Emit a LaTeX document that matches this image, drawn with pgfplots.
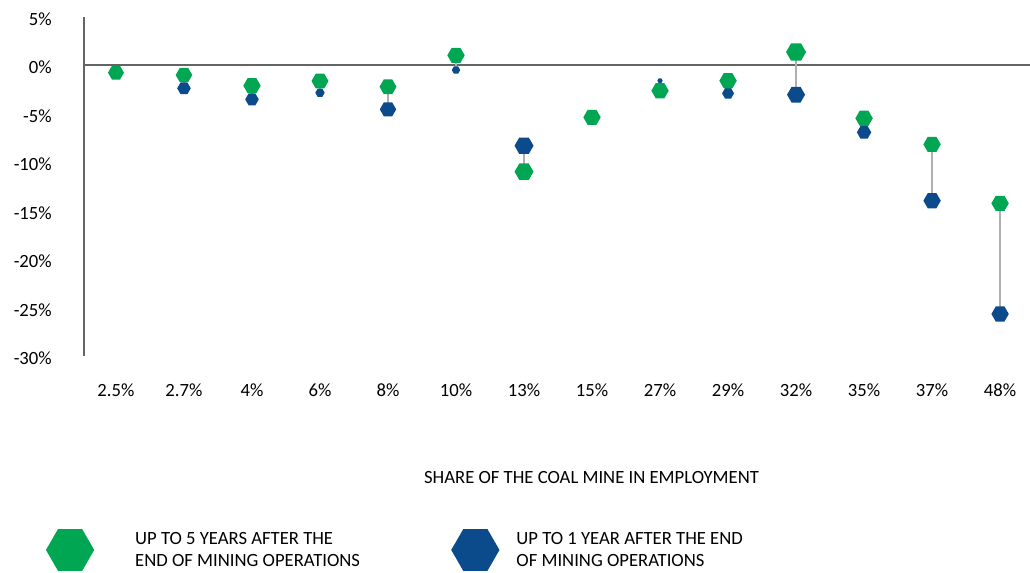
\documentclass[border=0pt]{standalone}
\usepackage{fontspec}
\setmainfont{Carlito}
\usepackage{pgfplots}
\pgfplotsset{compat=1.18}
\usepackage{pgfplotstable}

\definecolor{cgreen}{HTML}{00A651}
\definecolor{cblue}{HTML}{0B4A8B}
\definecolor{cconn}{HTML}{B0B0B0}
\definecolor{caxis}{HTML}{646464}

% flat-topped hexagon, radius = mark size
\pgfdeclareplotmark{hexa}{%
  \pgfpathmoveto{\pgfqpoint{\pgfplotmarksize}{0pt}}%
  \pgfpathlineto{\pgfqpoint{0.5\pgfplotmarksize}{0.866\pgfplotmarksize}}%
  \pgfpathlineto{\pgfqpoint{-0.5\pgfplotmarksize}{0.866\pgfplotmarksize}}%
  \pgfpathlineto{\pgfqpoint{-\pgfplotmarksize}{0pt}}%
  \pgfpathlineto{\pgfqpoint{-0.5\pgfplotmarksize}{-0.866\pgfplotmarksize}}%
  \pgfpathlineto{\pgfqpoint{0.5\pgfplotmarksize}{-0.866\pgfplotmarksize}}%
  \pgfpathclose\pgfusepathqfill}

% g: up to 5 years, b: up to 1 year; gs, bs: marker radius (px)
\pgfplotstableread{
x  g       gs    b       bs
0  -0.79   8.0   -0.79   0
1  -1.03   8.3   -2.40   6.8
2  -2.13   8.7   -3.54   6.8
3  -1.65   8.5   -2.86   4.7
4  -2.24   8.5   -4.57   8.2
5   1.00   8.7   -0.52   4.2
6  -11.00  9.5   -8.32   9.5
7  -5.39   8.7   -5.39   0
8  -2.65   8.7   -1.62   2.7
9  -1.62   8.7   -2.92   6.0
10  1.34   10.0  -3.06   9.0
11 -5.49   8.7   -6.94   7.2
12 -8.18   8.7   -13.99  8.7
13 -14.26  8.7   -25.67  8.7
}\mines

\newcommand\lbl{\fontsize{14}{16.5}\selectfont}

\begin{document}
\begin{tikzpicture}
\useasboundingbox (0,0) rectangle (772.5pt,429pt);
\begin{axis}[
  at={(63pt,162pt)}, anchor=south west, scale only axis,
  width=709.5pt, height=254.6pt,
  xmin=-0.47, xmax=13.44, ymin=-30, ymax=5,
  clip=false,
  axis line style={draw=none}, major tick length=0pt,
  xtick={0,...,13},
  xticklabels={2.5\%,2.7\%,4\%,6\%,8\%,10\%,13\%,15\%,27\%,29\%,32\%,35\%,37\%,48\%},
  ytick={-30,-25,...,5},
  yticklabel={\pgfmathprintnumber{\tick}\%},
  /pgf/number format/assume math mode=true,
  tick label style={font=\lbl},
  xticklabel style={anchor=base, yshift=-30.4pt},
  yticklabel style={anchor=base east, inner sep=0pt, xshift=-24pt, yshift=-6.4pt},
  xlabel={SHARE OF THE COAL MINE IN EMPLOYMENT},
  xlabel style={at={(axis description cs:0.5365,0)}, anchor=base, yshift=-95.5pt, font=\lbl},
  legend columns=2,
  legend cell align=left,
  legend style={at={(-0.0405,-0.5714)}, anchor=west, draw=none, fill=none,
    inner sep=0pt, outer sep=0pt, font=\lbl,
    cells={anchor=west, align=left, inner sep=0pt},
    /tikz/every odd column/.append style={column sep=10.5pt},
    /tikz/every even column/.append style={column sep=66.2pt}},
]
\draw[caxis, line width=1.5pt] (rel axis cs:0,0) -- (rel axis cs:0,1);
\draw[caxis, line width=1.5pt] (axis cs:-0.47,0) -- (axis cs:13.44,0);

\addlegendimage{legend image code/.code={%
  \begin{pgfscope}\pgfsetfillcolor{cgreen}\pgfsetplotmarksize{18.1pt}\pgfuseplotmark{hexa}\end{pgfscope}%
  \path (-18.1pt,0pt) (36.1pt,0pt);}}
\addlegendentry{UP TO 5 YEARS AFTER THE\\END OF MINING OPERATIONS}
\addlegendimage{legend image code/.code={%
  \begin{pgfscope}\pgfsetfillcolor{cblue}\pgfsetplotmarksize{18.1pt}\pgfuseplotmark{hexa}\end{pgfscope}%
  \path (-18.1pt,0pt) (18.1pt,0pt);}}
\addlegendentry{UP TO 1 YEAR AFTER THE END\\OF MINING OPERATIONS}

\addplot[forget plot, cconn, line width=2pt, unbounded coords=jump] coordinates {
(1,-1.03) (1,-2.40) (1,nan)
(2,-2.13) (2,-3.54) (2,nan)
(3,-1.65) (3,-2.86) (3,nan)
(4,-2.24) (4,-4.57) (4,nan)
(5,1.00) (5,-0.52) (5,nan)
(6,-11.00) (6,-8.32) (6,nan)
(8,-2.65) (8,-1.62) (8,nan)
(9,-1.62) (9,-2.92) (9,nan)
(10,1.34) (10,-3.06) (10,nan)
(11,-5.49) (11,-6.94) (11,nan)
(12,-8.18) (12,-13.99) (12,nan)
(13,-14.26) (13,-25.67)
};

\addplot[forget plot, only marks, scatter, mark=hexa,
  scatter/use mapped color={draw=none, fill=cblue},
  visualization depends on={\thisrow{bs}\as\ms},
  scatter/@pre marker code/.append style={/tikz/mark size=\ms*0.75pt}]
  table[x=x, y=b] {\mines};

\addplot[forget plot, only marks, scatter, mark=hexa,
  scatter/use mapped color={draw=none, fill=cgreen},
  visualization depends on={\thisrow{gs}\as\ms},
  scatter/@pre marker code/.append style={/tikz/mark size=\ms*0.75pt}]
  table[x=x, y=g] {\mines};
\end{axis}
\end{tikzpicture}
\end{document}
